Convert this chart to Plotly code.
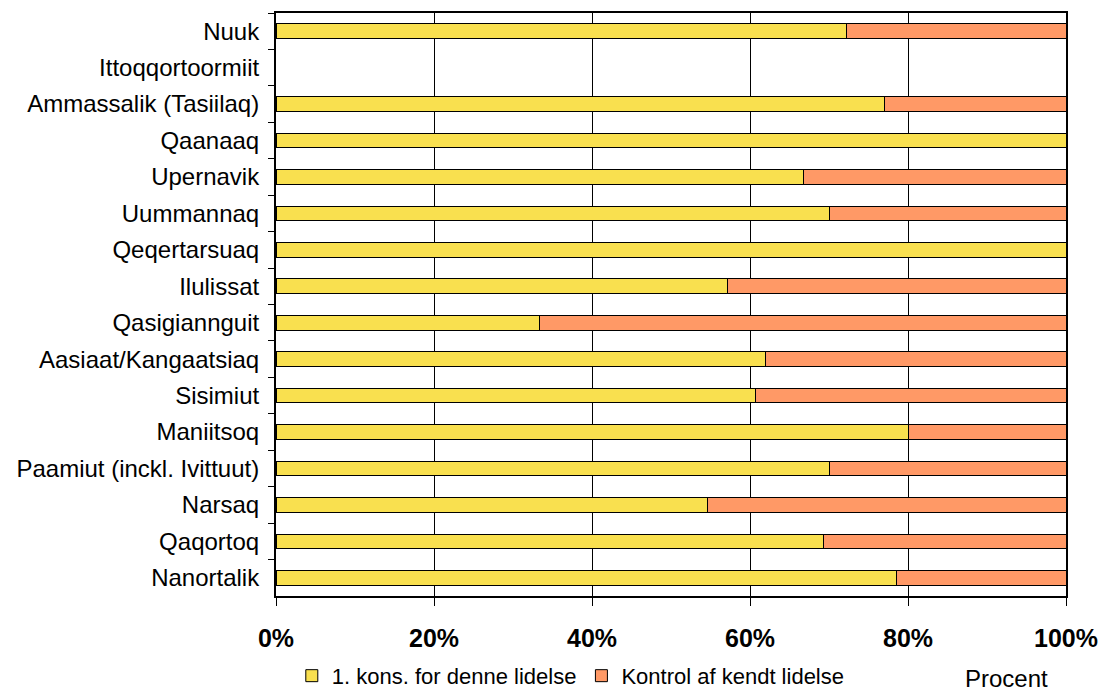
import plotly.graph_objects as go

towns = ["Nuuk", "Ittoqqortoormiit", "Ammassalik (Tasiilaq)", "Qaanaaq", "Upernavik",
         "Uummannaq", "Qeqertarsuaq", "Ilulissat", "Qasigiannguit", "Aasiaat/Kangaatsiaq",
         "Sisimiut", "Maniitsoq", "Paamiut (inckl. Ivittuut)", "Narsaq", "Qaqortoq", "Nanortalik"]
first_cons = [72.2, None, 77.0, 100, 66.8, 70.1, 100, 57.2, 33.3, 62.0, 60.7, 80.0, 70.1, 54.6, 69.3, 78.5]
control = [27.8, None, 23.0, 0, 33.2, 29.9, 0, 42.8, 66.7, 38.0, 39.3, 20.0, 29.9, 45.4, 30.7, 21.5]
x_ticks = [0, 20, 40, 60, 80, 100]
x_labels = ["0%", "20%", "40%", "60%", "80%", "100%"]

FONT = "Arial, Liberation Sans, sans-serif"

fig = go.Figure()
fig.add_trace(go.Bar(y=towns, x=first_cons, orientation="h", name="1. kons. for denne lidelse",
                     marker=dict(color="#F9E04F", line=dict(color="black", width=1))))
fig.add_trace(go.Bar(y=towns, x=control, orientation="h", name="Kontrol af kendt lidelse",
                     marker=dict(color="#FF9966", line=dict(color="black", width=1))))

fig.update_layout(
    width=1110, height=697,
    barmode="stack", bargap=0.6,
    plot_bgcolor="white", paper_bgcolor="white",
    margin=dict(l=276, r=44, t=13, b=101, autoexpand=False),
    font=dict(family=FONT, color="black"),
    showlegend=True,
    legend=dict(orientation="h", x=0.02, xanchor="left", y=-0.173, yanchor="bottom",
                font=dict(size=22, family=FONT), traceorder="normal",
                itemwidth=30, bgcolor="rgba(0,0,0,0)", borderwidth=0),
    annotations=[dict(text="Procent", x=0.925, y=-0.142, xref="paper", yref="paper",
                      xanchor="center", yanchor="middle", showarrow=False,
                      font=dict(size=24, family=FONT))],
)
fig.update_xaxes(range=[0, 100], tickvals=x_ticks, ticktext=x_labels,
                 showgrid=True, gridcolor="black", gridwidth=1,
                 showline=True, linecolor="black", linewidth=2, mirror=True,
                 ticks="outside", ticklen=8, tickcolor="black", tickwidth=1,
                 tickfont=dict(size=25, family=FONT, weight="bold"),
                 ticklabelstandoff=11, zeroline=False, fixedrange=True)
fig.update_yaxes(categoryorder="array", categoryarray=towns, autorange="reversed",
                 showgrid=False, showline=True, linecolor="black", linewidth=2, mirror=True,
                 ticks="outside", tickson="boundaries", ticklen=6, tickcolor="black",
                 tickfont=dict(size=24, family=FONT), ticklabelstandoff=10, fixedrange=True)

fig.write_html("out.html")
